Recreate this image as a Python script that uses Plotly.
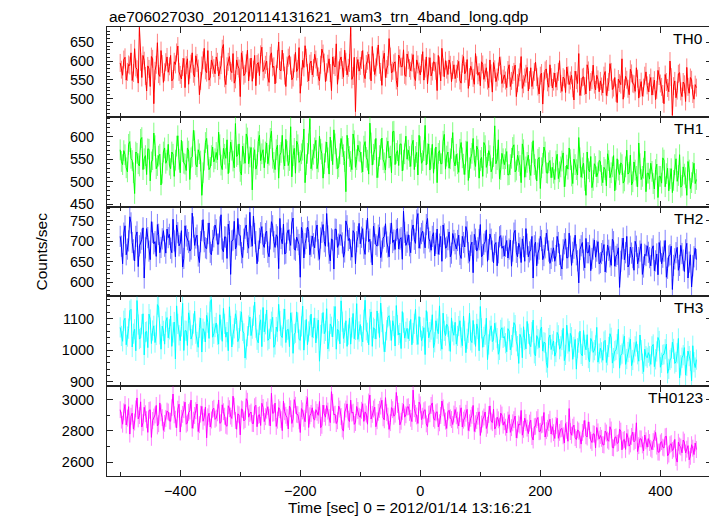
import plotly.graph_objects as go
from plotly.subplots import make_subplots

# ---- data (count rates) ----
# "_a" samples are at t = -500, -496, ... ; "_b" samples at t = -498, -494, ...
time_start = -500
time_step = 2

th0_a = [
    595, 562, 610, 571, 588, 548, 633, 578, 690, 556, 601, 520, 579, 612, 486, 590, 565, 628, 543, 597,
    570, 615, 552, 591, 640, 563, 584, 529, 606, 577, 622, 558, 595, 510, 588, 634, 569, 549, 603, 581,
    611, 560, 589, 644, 537, 598, 574, 620, 551, 587, 505, 603, 566, 629, 583, 546, 615, 592, 561, 637,
    578, 600, 543, 622, 586, 565, 651, 574, 597, 532, 609, 588, 556, 623, 579, 514, 602, 641, 568, 593,
    563, 618, 584, 547, 632, 596, 570, 606, 521, 589, 646, 575, 611, 557, 598, 582, 690, 560, 465, 604,
    587, 628, 553, 601, 575, 639, 564, 612, 590, 535, 621, 579, 660, 568, 594, 548, 616, 585, 630, 559,
    602, 574, 617, 548, 591, 563, 625, 580, 539, 609, 572, 596, 521, 588, 634, 558, 577, 603, 545, 590,
    566, 599, 541, 612, 573, 527, 586, 555, 620, 562, 534, 591, 569, 548, 603, 517, 578, 556, 611, 540,
    563, 529, 590, 547, 571, 505, 556, 612, 538, 566, 520, 582, 549, 597, 532, 561, 485, 575, 543, 590,
    528, 568, 546, 601, 519, 553, 584, 537, 562, 496, 549, 620, 531, 558, 512, 575, 544, 589, 523, 551,
    547, 515, 572, 530, 593, 524, 556, 489, 541, 606, 527, 550, 510, 567, 538, 582, 501, 545, 529, 571,
    518, 556, 533, 497, 575, 540, 512, 564, 528, 600, 455, 547, 521, 569, 505, 538, 583, 514, 550, 498,
    529,
]
th0_b = [
    577, 604, 549, 591, 622, 568, 583, 541, 598, 615, 560, 587, 532, 606, 574, 649, 559, 592, 570, 611,
    586, 547, 598, 623, 571, 552, 607, 589, 538, 593, 566, 614, 580, 547, 602, 575, 628, 557, 590, 566,
    598, 575, 633, 554, 586, 612, 569, 541, 603, 580, 622, 561, 594, 547, 608, 577, 534, 596, 618, 572,
    590, 557, 614, 583, 539, 605, 576, 629, 561, 588, 615, 550, 594, 572, 636, 558, 583, 609, 547, 600,
    581, 604, 559, 590, 620, 545, 593, 568, 611, 584, 538, 602, 576, 629, 563, 595, 551, 610, 587, 573,
    603, 566, 592, 618, 547, 596, 583, 643, 571, 604, 556, 589, 612, 574, 598, 531, 607, 585, 563, 619,
    581, 596, 557, 603, 572, 594, 549, 611, 586, 560, 598, 574, 615, 547, 583, 601, 564, 590, 576, 553,
    579, 548, 593, 566, 604, 557, 574, 538, 589, 570, 598, 551, 582, 529, 567, 596, 545, 572, 588, 553,
    548, 576, 532, 563, 589, 541, 570, 527, 556, 583, 549, 532, 571, 557, 512, 568, 546, 579, 530, 557,
    545, 530, 571, 539, 557, 516, 562, 548, 527, 573, 540, 508, 556, 533, 590, 521, 549, 537, 562, 518,
    532, 561, 508, 544, 571, 529, 515, 552, 537, 498, 559, 526, 578, 540, 519, 553, 528, 506, 561, 535,
    541, 509, 549, 523, 560, 531, 486, 544, 518, 557, 533, 502, 566, 519, 544, 492, 531, 556, 512, 537,
]

th1_a = [
    571, 538, 560, 522, 589, 547, 474, 563, 535, 598, 551, 516, 572, 544, 608, 529, 557, 493, 566, 541,
    583, 529, 561, 548, 602, 520, 567, 539, 575, 505, 556, 591, 533, 562, 470, 548, 596, 527, 558, 544,
    565, 610, 537, 574, 552, 518, 588, 546, 629, 560, 523, 579, 541, 597, 555, 482, 571, 538, 603, 562,
    531, 586, 559, 612, 543, 571, 508, 565, 550, 594, 536, 622, 558, 519, 582, 547, 570, 498, 563, 640,
    548, 575, 529, 601, 562, 540, 588, 517, 569, 615, 551, 533, 596, 560, 478, 574, 545, 606, 532, 581,
    566, 522, 589, 548, 630, 537, 571, 509, 558, 597, 542, 575, 553, 520, 612, 563, 536, 584, 548, 601,
    570, 534, 592, 556, 515, 578, 547, 625, 562, 526, 583, 551, 498, 569, 540, 605, 557, 530, 574, 546,
    561, 521, 587, 539, 568, 503, 552, 596, 534, 571, 547, 512, 580, 541, 558, 530, 624, 549, 506, 563,
    538, 567, 516, 552, 582, 526, 545, 498, 571, 533, 559, 514, 591, 528, 550, 485, 541, 566, 519, 547,
    532, 505, 561, 522, 546, 489, 537, 575, 513, 550, 527, 598, 510, 541, 470, 529, 556, 503, 534, 520,
    545, 498, 527, 562, 509, 533, 480, 551, 516, 538, 502, 570, 521, 493, 544, 512, 586, 505, 530, 478,
    519, 541, 496, 527, 465, 512, 553, 489, 530, 507, 476, 538, 501, 560, 492, 517, 470, 526, 498, 541,
    505,
]
th1_b = [
    545, 569, 531, 583, 552, 520, 566, 540, 594, 527, 558, 573, 502, 549, 580, 536, 561, 519, 575, 548,
    537, 566, 512, 579, 550, 592, 541, 525, 568, 553, 614, 538, 571, 546, 520, 587, 559, 532, 577, 551,
    549, 582, 527, 561, 593, 543, 570, 531, 556, 584, 515, 562, 606, 540, 576, 553, 528, 589, 547, 571,
    566, 540, 596, 552, 527, 581, 559, 603, 535, 568, 547, 511, 574, 590, 543, 562, 617, 538, 584, 529,
    561, 592, 544, 572, 508, 566, 553, 599, 538, 584, 529, 562, 578, 545, 603, 556, 527, 591, 549, 568,
    543, 579, 554, 517, 586, 561, 596, 532, 572, 549, 526, 590, 557, 611, 538, 569, 583, 524, 562, 550,
    556, 581, 527, 565, 603, 541, 569, 537, 584, 552, 519, 577, 563, 540, 590, 528, 566, 551, 609, 535,
    540, 572, 553, 516, 589, 531, 563, 548, 579, 508, 554, 587, 532, 569, 522, 556, 540, 593, 527, 551,
    551, 515, 538, 576, 522, 559, 536, 584, 510, 543, 527, 565, 538, 502, 554, 531, 577, 520, 542, 509,
    519, 546, 507, 533, 564, 512, 528, 549, 496, 538, 515, 553, 531, 503, 566, 522, 487, 540, 511, 547,
    514, 532, 491, 547, 520, 558, 505, 526, 542, 497, 533, 517, 559, 500, 526, 489, 540, 512, 568, 519,
    506, 523, 484, 539, 512, 497, 548, 518, 480, 529, 503, 551, 514, 488, 533, 509, 545, 485, 521, 496,
]

th2_a = [
    712, 645, 738, 681, 760, 697, 652, 723, 689, 705, 610, 731, 676, 748, 694, 663, 717, 685, 726, 671,
    709, 683, 754, 662, 721, 695, 637, 738, 704, 676, 769, 690, 715, 648, 726, 699, 682, 745, 667, 711,
    728, 693, 765, 674, 710, 742, 619, 703, 681, 756, 714, 660, 732, 697, 771, 688, 719, 645, 707, 736,
    685, 725, 662, 748, 699, 716, 633, 707, 742, 671, 728, 690, 757, 678, 703, 612, 721, 694, 735, 667,
    713, 684, 740, 656, 722, 699, 768, 671, 706, 632, 729, 693, 715, 661, 750, 702, 679, 726, 645, 711,
    694, 731, 668, 757, 705, 642, 719, 688, 734, 676, 712, 698, 662, 745, 703, 727, 681, 709, 774, 690,
    716, 672, 740, 695, 768, 708, 725, 684, 756, 699, 712, 664, 730, 693, 651, 718, 686, 723, 671, 702,
    681, 715, 658, 697, 736, 672, 690, 623, 705, 684, 741, 667, 699, 651, 718, 676, 692, 640, 711, 683,
    664, 702, 681, 639, 720, 673, 695, 648, 687, 731, 662, 679, 610, 698, 671, 712, 655, 684, 703, 646,
    676, 651, 712, 668, 632, 694, 659, 720, 641, 683, 667, 598, 689, 654, 707, 672, 628, 681, 661, 699,
    648, 677, 625, 691, 662, 705, 639, 668, 587, 682, 655, 712, 643, 671, 629, 688, 660, 694, 637, 665,
    673, 640, 689, 652, 618, 676, 661, 702, 634, 667, 582, 657, 685, 641, 670, 626, 695, 649, 588, 662,
    655,
]
th2_b = [
    688, 720, 667, 701, 745, 679, 712, 638, 696, 733, 684, 709, 655, 722, 699, 741, 672, 706, 688, 730,
    717, 672, 701, 740, 689, 726, 658, 713, 697, 681, 735, 708, 664, 699, 753, 684, 719, 673, 702, 740,
    693, 735, 681, 711, 658, 724, 701, 749, 690, 716, 672, 705, 740, 683, 712, 762, 699, 676, 721, 693,
    719, 673, 706, 738, 685, 711, 756, 694, 669, 720, 703, 745, 681, 710, 692, 734, 659, 707, 724, 688,
    694, 725, 679, 708, 741, 688, 713, 652, 703, 730, 685, 716, 696, 674, 738, 707, 661, 720, 699, 744,
    710, 683, 726, 699, 674, 737, 692, 715, 660, 708, 743, 686, 719, 697, 680, 731, 705, 656, 722, 698,
    689, 727, 705, 752, 683, 719, 696, 741, 708, 678, 721, 695, 668, 712, 740, 683, 704, 662, 719, 694,
    702, 668, 712, 686, 723, 651, 698, 717, 676, 704, 662, 693, 728, 680, 705, 647, 697, 672, 714, 688,
    688, 659, 703, 676, 727, 662, 684, 706, 651, 693, 674, 712, 689, 640, 681, 702, 665, 720, 676, 658,
    684, 665, 697, 641, 679, 706, 660, 688, 673, 715, 652, 680, 697, 635, 672, 690, 658, 703, 676, 645,
    670, 692, 649, 678, 641, 699, 663, 684, 651, 708, 672, 637, 686, 660, 700, 645, 676, 619, 668, 689,
    660, 681, 628, 669, 697, 645, 676, 612, 664, 688, 641, 672, 629, 690, 654, 679, 610, 667, 640, 683,
]

th3_a = [
    1072, 1028, 1101, 1043, 1125, 1010, 1066, 1157, 1035, 1082, 985, 1059, 1114, 1021, 1077, 1048, 1136, 1003, 1061, 1090,
    1039, 1108, 1056, 972, 1083, 1030, 1148, 1062, 1015, 1094, 1047, 1123, 1026, 1071, 994, 1058, 1110, 1037, 1160, 1052,
    1086, 1019, 1065, 1132, 1041, 998, 1076, 1050, 1115, 1027, 1092, 1061, 975, 1044, 1105, 1068, 1152, 1033, 1080, 1011,
    1058, 1127, 1036, 1090, 1009, 1073, 1145, 1046, 1099, 1024, 1066, 1118, 990, 1055, 1087, 1031, 1139, 1063, 1017, 1078,
    1041, 1102, 1069, 965, 1085, 1052, 1131, 1028, 1074, 1107, 1003, 1060, 1156, 1037, 1093, 1049, 1019, 1116, 1064, 1034,
    1081, 1026, 1158, 1055, 1098, 1012, 1067, 1124, 1040, 1089, 995, 1063, 1109, 1031, 1076, 1141, 1048, 1005, 1087, 1058,
    1036, 1097, 1054, 1129, 1018, 1073, 1044, 986, 1090, 1057, 1112, 1025, 1068, 1140, 1003, 1061, 1082, 1029, 1102, 1047,
    1019, 1076, 1040, 1108, 992, 1055, 1031, 1094, 1012, 1067, 1138, 1009, 1049, 970, 1062, 1027, 1085, 1038, 1001, 1071,
    1043, 995, 1060, 1016, 1087, 1028, 958, 1039, 1074, 1004, 1052, 1011, 1095, 982, 1035, 1064, 997, 1023, 945, 1048,
    1018, 981, 1056, 1003, 1032, 967, 1079, 996, 1041, 1010, 940, 1024, 988, 1062, 1001, 975, 1037, 993, 1015, 962,
    1006, 968, 1031, 984, 1052, 959, 997, 1019, 943, 989, 1044, 972, 1008, 951, 993, 1027, 965, 1000, 932, 981,
    992, 955, 1018, 971, 1040, 946, 985, 1003, 927, 969, 1025, 958, 990, 912, 976, 1008, 950, 981, 903, 962,
    970,
]
th3_b = [
    1045, 1093, 1017, 1068, 1129, 1052, 998, 1081, 1039, 1115, 1057, 1008, 1097, 1062, 1024, 1144, 1050, 1076, 1019, 1103,
    1066, 1012, 1089, 1140, 1047, 1075, 999, 1061, 1118, 1035, 1084, 1052, 1009, 1101, 1068, 1026, 1087, 1153, 1041, 1073,
    1049, 1112, 1028, 1083, 1057, 1137, 1010, 1069, 1094, 1038, 1121, 1053, 1002, 1078, 1046, 1109, 1071, 1023, 1096, 1135,
    1082, 1031, 1067, 1104, 1018, 1059, 1092, 1040, 1130, 1064, 1011, 1088, 1051, 1121, 1034, 1075, 1000, 1097, 1059, 1114,
    1070, 1023, 1095, 1048, 1119, 1061, 1004, 1083, 1042, 1138, 1066, 1020, 1090, 1055, 1012, 1101, 1072, 1036, 1147, 1059,
    1044, 1096, 1063, 1017, 1121, 1071, 1035, 1085, 1149, 1050, 1026, 1104, 1062, 1093, 1013, 1079, 1054, 1122, 1038, 1069,
    1061, 1017, 1083, 1049, 1106, 1030, 1071, 1125, 1039, 1065, 1008, 1093, 1052, 1030, 1117, 1046, 1074, 996, 1059, 1088,
    1045, 1093, 1014, 1061, 1036, 1117, 1024, 1050, 1083, 998, 1069, 1042, 1101, 1018, 1077, 1033, 1056, 987, 1064, 1039,
    1022, 1068, 1001, 1041, 1079, 1013, 1050, 976, 1032, 1091, 1019, 1057, 990, 1046, 1008, 1073, 1025, 961, 1038, 1002,
    1029, 994, 1047, 1012, 1069, 985, 1021, 1053, 971, 1034, 1006, 1060, 982, 1017, 1049, 963, 1028, 1000, 1072, 989,
    993, 1027, 961, 1010, 1039, 975, 1001, 1066, 984, 1018, 955, 994, 1035, 969, 1012, 987, 1048, 957, 1003, 976,
    981, 1012, 948, 996, 1029, 960, 987, 1019, 941, 975, 1004, 963, 1037, 952, 984, 921, 997, 966, 1014, 945,
]

th0123_a = [
    2935, 2842, 2968, 2881, 2779, 2913, 2856, 3010, 2897, 2824, 2950, 2871, 2930, 2758, 2888, 2962, 2845, 2915, 2803, 2879,
    2920, 2861, 3035, 2874, 2938, 2792, 2905, 2983, 2850, 2927, 2816, 2898, 2971, 2839, 2956, 2887, 2755, 2912, 2869, 2944,
    2881, 2997, 2853, 2922, 2835, 2960, 2894, 3021, 2866, 2908, 2774, 2935, 2872, 2989, 2911, 2847, 2954, 2826, 2903, 2976,
    2859, 2932, 2887, 3040, 2915, 2828, 2948, 2871, 2990, 2899, 2812, 2941, 2876, 2963, 2903, 2789, 2927, 2858, 3012, 2896,
    2947, 2869, 2918, 2987, 2835, 2910, 2961, 2884, 3050, 2902, 2846, 2958, 2891, 2798, 2939, 2874, 2996, 2919, 2853, 2930,
    2886, 2973, 2921, 2842, 3028, 2905, 2951, 2864, 2937, 2995, 2870, 2916, 2809, 2948, 2893, 3045, 2925, 2861, 2969, 2902,
    2954, 2880, 3060, 2911, 2847, 2966, 2893, 2935, 2826, 2909, 2978, 2868, 2922, 2851, 2990, 2884, 2815, 2931, 2872, 2907,
    2896, 2831, 2947, 2868, 2912, 2802, 2880, 2962, 2845, 2893, 2770, 2875, 2920, 2836, 2959, 2852, 2811, 2887, 2829, 2901,
    2858, 2786, 2903, 2820, 2871, 2755, 2844, 2930, 2809, 2853, 2782, 2868, 2741, 2829, 2885, 2797, 2842, 2760, 2816, 2874,
    2826, 2751, 2880, 2790, 2815, 2722, 2803, 2942, 2772, 2836, 2744, 2798, 2715, 2812, 2768, 2857, 2739, 2781, 2690, 2793,
    2770, 2712, 2798, 2741, 2826, 2693, 2757, 2719, 2810, 2678, 2745, 2783, 2702, 2764, 2729, 2851, 2705, 2748, 2671, 2736,
    2750, 2688, 2731, 2790, 2664, 2722, 2695, 2762, 2640, 2711, 2674, 2745, 2600, 2703, 2659, 2728, 2682, 2615, 2711, 2648,
    2680,
]
th0123_b = [
    2868, 2921, 2837, 2954, 2893, 2811, 2940, 2876, 2985, 2852, 2909, 2790, 2934, 2866, 2901, 2831, 2978, 2884, 2847, 2926,
    2863, 2948, 2902, 2819, 2970, 2880, 2935, 2842, 2917, 2996, 2868, 2929, 2795, 2906, 2861, 2952, 2889, 2824, 2937, 2873,
    2915, 2848, 2966, 2893, 2829, 2941, 2879, 2957, 2810, 2902, 2940, 2863, 3005, 2887, 2920, 2846, 2963, 2898, 2834, 2949,
    2890, 2954, 2831, 2912, 2977, 2868, 2935, 2801, 2922, 2884, 2958, 2847, 2999, 2906, 2865, 2942, 2880, 2968, 2821, 2911,
    2876, 2935, 2899, 2820, 2964, 2887, 2926, 2852, 2981, 2906, 2864, 2939, 2812, 2921, 2972, 2859, 2913, 2841, 2955, 2893,
    2931, 2860, 2907, 2984, 2875, 2939, 2826, 2918, 2958, 2883, 3012, 2894, 2852, 2935, 2906, 2969, 2838, 2924, 2887, 2951,
    2917, 2859, 2941, 2895, 2983, 2871, 2928, 2844, 2906, 2962, 2879, 2915, 2825, 2898, 2946, 2862, 2921, 2883, 2840, 2936,
    2868, 2910, 2824, 2881, 2937, 2851, 2899, 2796, 2866, 2921, 2843, 2888, 2815, 2904, 2862, 2939, 2827, 2870, 2913, 2836,
    2823, 2868, 2790, 2851, 2894, 2806, 2836, 2772, 2881, 2817, 2849, 2763, 2826, 2871, 2794, 2838, 2917, 2801, 2852, 2779,
    2788, 2834, 2752, 2811, 2768, 2846, 2733, 2795, 2823, 2756, 2806, 2741, 2789, 2866, 2760, 2803, 2725, 2778, 2821, 2747,
    2752, 2709, 2786, 2733, 2805, 2690, 2761, 2724, 2798, 2739, 2681, 2755, 2716, 2792, 2738, 2667, 2749, 2710, 2773, 2695,
    2725, 2679, 2748, 2702, 2663, 2731, 2690, 2765, 2651, 2718, 2684, 2629, 2727, 2696, 2741, 2658, 2705, 2637, 2689, 2722,
]

# per-band 1-sigma error of the rates
err_th0, err_th1, err_th2, err_th3, err_th0123 = 24, 23, 26, 32, 54

band_names = ["TH0", "TH1", "TH2", "TH3", "TH0123"]
y_ranges = [[451, 691], [445, 644], [565, 785], [886, 1170], [2511, 3085]]
y_major = [50, 50, 50, 100, 200]
y_minor = [10, 10, 10, 20, 100]
x_range = [-522, 486]
x_major = 200
x_minor = 100

title_text = "ae706027030_20120114131621_wam3_trn_4band_long.qdp"
x_title = "Time [sec] 0 = 2012/01/14 13:16:21"
y_title = "Counts/sec"


def interleave(a, b):
    assert len(a) == len(b) + 1, (len(a), len(b))
    out = []
    for va, vb in zip(a, b):
        out.extend([va, vb])
    out.append(a[-1])
    return out


series = [interleave(th0_a, th0_b), interleave(th1_a, th1_b), interleave(th2_a, th2_b),
          interleave(th3_a, th3_b), interleave(th0123_a, th0123_b)]
errors = [err_th0, err_th1, err_th2, err_th3, err_th0123]
colors = ["#ff0000", "#00ff00", "#0000ff", "#00ffff", "#ff00ff"]
err_colors = ["rgba(255,0,0,0.5)", "rgba(0,255,0,0.5)", "rgba(0,0,255,0.5)",
              "rgba(0,255,255,0.5)", "rgba(255,0,255,0.5)"]

time = [time_start + time_step * i for i in range(len(series[0]))]

FONT = "Liberation Sans, Arial, Helvetica, sans-serif"
AXCOL = "#222222"

fig = make_subplots(rows=5, cols=1, shared_xaxes=True, vertical_spacing=0)

for i, (ys, e, c, ec) in enumerate(zip(series, errors, colors, err_colors)):
    fig.add_trace(
        go.Scatter(
            x=time, y=ys, mode="lines",
            line=dict(color=c, width=1),
            error_y=dict(type="constant", value=e, color=ec, thickness=1, width=0),
            showlegend=False, hoverinfo="skip",
        ),
        row=i + 1, col=1,
    )

for i in range(5):
    fig.update_yaxes(
        row=i + 1, col=1, automargin=False,
        range=y_ranges[i], tickmode="linear", tick0=0, dtick=y_major[i],
        ticks="inside", ticklen=6, tickwidth=1, tickcolor=AXCOL,
        minor=dict(dtick=y_minor[i], tick0=0, ticks="inside", ticklen=3,
                   tickwidth=1, tickcolor=AXCOL, showgrid=False),
        showline=True, linecolor=AXCOL, linewidth=1, mirror="allticks",
        showgrid=False, zeroline=False,
        tickfont=dict(family=FONT, size=14.5, color="#000000"),
        ticklabelstandoff=9,
    )
    fig.update_xaxes(
        row=i + 1, col=1, automargin=False,
        range=x_range, tickmode="linear", tick0=0, dtick=x_major,
        ticks="inside", ticklen=6, tickwidth=1, tickcolor=AXCOL,
        minor=dict(dtick=x_minor, tick0=0, ticks="inside", ticklen=4,
                   tickwidth=1, tickcolor=AXCOL, showgrid=False),
        showline=True, linecolor=AXCOL, linewidth=1, mirror="allticks",
        showgrid=False, zeroline=False,
        tickfont=dict(family=FONT, size=14.5, color="#000000"),
        ticklabelstandoff=2,
    )

annotations = []
for i, name in enumerate(band_names):
    yax = fig.layout["yaxis" if i == 0 else f"yaxis{i + 1}"]
    top = yax.domain[1]
    annotations.append(dict(
        text=name, xref="paper", yref="paper", x=0.988, y=top,
        xanchor="right", yanchor="top", yshift=-1, showarrow=False,
        font=dict(family=FONT, size=15.5, color="#000000"),
    ))
annotations.append(dict(
    text=y_title, xref="paper", yref="paper", x=-0.109, y=0.5,
    xanchor="center", yanchor="middle", textangle=-90, showarrow=False,
    font=dict(family=FONT, size=15.5, color="#000000"),
))
annotations.append(dict(
    text=x_title, xref="paper", yref="paper", x=0.5, y=-0.071,
    xanchor="center", yanchor="middle", showarrow=False,
    font=dict(family=FONT, size=15.5, color="#000000"),
))
annotations.append(dict(
    text=title_text, xref="paper", yref="paper", x=0, y=1,
    xanchor="left", yanchor="bottom", yshift=0, showarrow=False,
    font=dict(family=FONT, size=15.5, color="#000000"),
))

# the page puts the figure 8 px in from the top-left corner of the window
fig.update_layout(
    width=709, height=508,
    margin=dict(l=99, r=5, t=19, b=40, autoexpand=False),
    paper_bgcolor="white", plot_bgcolor="white",
    annotations=annotations,
    font=dict(family=FONT, color="#000000"),
)

fig.write_html("out.html")
